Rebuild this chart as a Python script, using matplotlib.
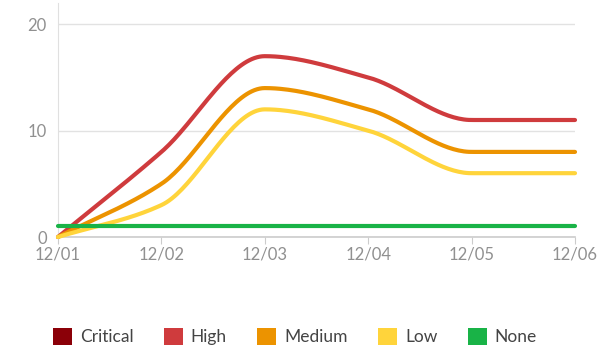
import numpy as np
import matplotlib
matplotlib.use("Agg")
import matplotlib.pyplot as plt
from matplotlib.patches import Patch

dates = ["12/01", "12/02", "12/03", "12/04", "12/05", "12/06"]
critical = []
high = [0, 8, 17, 15, 11, 11]
medium = [0, 5, 14, 12, 8, 8]
low = [0, 3, 12, 10, 6, 6]
none = [1, 1, 1, 1, 1, 1]

series_names = ["Critical", "High", "Medium", "Low", "None"]
series_values = [critical, high, medium, low, none]
colors = ["#8b0008", "#cf3b3d", "#ec9300", "#ffd43b", "#19b347"]

plt.rcParams["font.family"] = ["Lato", "DejaVu Sans"]


def monotone_curve(y, samples=40):
    """Fritsch-Carlson monotone cubic through equally spaced points."""
    y = np.asarray(y, dtype=float)
    n = len(y)
    x = np.arange(n, dtype=float)
    d = np.diff(y)
    m = np.zeros(n)
    m[0], m[-1] = d[0], d[-1]
    for i in range(1, n - 1):
        if d[i - 1] * d[i] <= 0:
            m[i] = 0.0
        else:
            m[i] = 2.0 / (1.0 / d[i - 1] + 1.0 / d[i])
    xs, ys = [], []
    for i in range(n - 1):
        t = np.linspace(0, 1, samples, endpoint=(i == n - 2))
        h00 = 2 * t**3 - 3 * t**2 + 1
        h10 = t**3 - 2 * t**2 + t
        h01 = -2 * t**3 + 3 * t**2
        h11 = t**3 - t**2
        xs.append(x[i] + t)
        ys.append(h00 * y[i] + h10 * m[i] + h01 * y[i + 1] + h11 * m[i + 1])
    return np.concatenate(xs), np.concatenate(ys)


fig = plt.figure(figsize=(5.99, 3.52), dpi=100)
ax = fig.add_axes([58 / 599, 115 / 352, 517 / 599, 234 / 352])

for name, vals, c in zip(series_names, series_values, colors):
    if len(vals) == 0:
        continue
    cx, cy = monotone_curve(vals)
    ax.plot(cx, cy, color=c, lw=3, solid_capstyle="round", clip_on=False, zorder=3)

ax.set_xlim(0, len(dates) - 1)
ax.set_ylim(0, 22)
ax.set_yticks([0, 10, 20])
ax.set_xticks(range(len(dates)))
ax.set_xticklabels(dates)
ax.grid(axis="y", color="#e2e2e2", lw=1)
ax.set_axisbelow(True)
for s in ["top", "right"]:
    ax.spines[s].set_visible(False)
ax.spines["left"].set_color("#e0e0e0")
ax.spines["bottom"].set_color("#cccccc")
ax.spines["bottom"].set_linewidth(1.2)
ax.tick_params(axis="y", length=0, pad=8, labelsize=12, labelcolor="#909090")
ax.tick_params(axis="x", length=5, color="#cccccc", pad=2, labelsize=12, labelcolor="#909090")

handles = [Patch(facecolor=c, edgecolor="none") for c in colors]
fig.legend(handles, series_names, loc="center", bbox_to_anchor=(0.4925, 0.043), ncol=5,
           frameon=False, fontsize=12.5, handlelength=1.1, handleheight=1.1,
           handletextpad=0.45, columnspacing=1.75, labelcolor="#444444")

fig.savefig("out.png", dpi=100)
